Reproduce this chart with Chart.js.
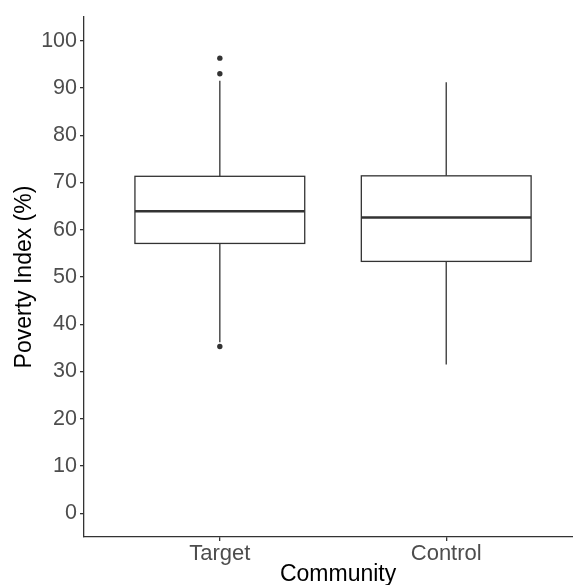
<!DOCTYPE html>
<html>
<head>
<meta charset="utf-8">
<script src="https://cdn.jsdelivr.net/npm/chart.js@4.4.1/dist/chart.umd.min.js"></script>
<style>
  html, body { margin: 0; padding: 0; background: #fff; overflow: hidden; }
  canvas { display: block; }
</style>
</head>
<body>
<canvas id="boxChart" width="573" height="585"></canvas>
<script>
// ---------------- DATA ----------------
const categories = ["Target", "Control"];
const whiskerLow = [36.2, 31.5];
const q1 = [57.1, 53.3];
const median = [63.9, 62.6];
const q3 = [71.3, 71.4];
const whiskerHigh = [91.5, 91.2];
const outliers = [[96.3, 93.0, 35.3], []];
const yTicks = [0, 10, 20, 30, 40, 50, 60, 70, 80, 90, 100];

// ---------------- STYLE ----------------
const FONT = "'Liberation Sans', Arial, sans-serif";
const LINE = "#333333";
const BOX_WIDTH = 0.75;

// outlier points as scatter data
const outlierPoints = [];
outliers.forEach((vals, i) => vals.forEach(v => outlierPoints.push({ x: i + 1, y: v })));

// ---------------- BOX PLUGIN ----------------
const boxPlugin = {
  id: "boxes",
  beforeDatasetsDraw(chart) {
    const { ctx, scales: { x, y } } = chart;
    ctx.save();
    ctx.strokeStyle = LINE;
    categories.forEach((c, i) => {
      const cx = x.getPixelForValue(i + 1);
      const left = x.getPixelForValue(i + 1 - BOX_WIDTH / 2);
      const right = x.getPixelForValue(i + 1 + BOX_WIDTH / 2);
      const yq1 = y.getPixelForValue(q1[i]);
      const yq3 = y.getPixelForValue(q3[i]);

      // whiskers
      ctx.lineWidth = 1.3;
      ctx.beginPath();
      ctx.moveTo(cx, yq3);
      ctx.lineTo(cx, y.getPixelForValue(whiskerHigh[i]));
      ctx.moveTo(cx, yq1);
      ctx.lineTo(cx, y.getPixelForValue(whiskerLow[i]));
      ctx.stroke();

      // box
      ctx.fillStyle = "#ffffff";
      ctx.fillRect(left, yq3, right - left, yq1 - yq3);
      ctx.strokeRect(left, yq3, right - left, yq1 - yq3);

      // median
      ctx.lineWidth = 2.4;
      ctx.beginPath();
      ctx.moveTo(left, y.getPixelForValue(median[i]));
      ctx.lineTo(right, y.getPixelForValue(median[i]));
      ctx.stroke();
    });
    ctx.restore();
  }
};

// ---------------- CHART ----------------
const ctx = document.getElementById("boxChart").getContext("2d");
const boxChart = new Chart(ctx, {
  type: "scatter",
  data: {
    datasets: [{
      label: "Outliers",
      data: outlierPoints,
      pointRadius: 2.7,
      pointBackgroundColor: LINE,
      pointBorderWidth: 0
    }]
  },
  options: {
    responsive: false,
    animation: false,
    layout: { autoPadding: false, padding: { top: 17, left: 0, right: 0, bottom: 0 } },
    plugins: {
      legend: { display: false },
      tooltip: { enabled: false }
    },
    scales: {
      x: {
        type: "linear",
        min: 0.4,
        max: 2.56,
        afterBuildTicks: scale => { scale.ticks = categories.map((c, i) => ({ value: i + 1 })); },
        afterFit: scale => {
          scale.height = 48;
          scale.paddingLeft = 0;
          scale.paddingRight = 0;
        },
        ticks: {
          callback: v => categories[v - 1],
          color: "#4D4D4D",
          font: { family: FONT, size: 22 },
          padding: 0,
          maxRotation: 0
        },
        grid: { drawOnChartArea: false, drawTicks: true, tickLength: 4, color: LINE, lineWidth: 1.3 },
        border: { display: true, color: LINE, width: 1.3 },
        title: {
          display: true,
          text: "\u00a0\u00a0\u00a0Community",
          color: "#000",
          font: { family: FONT, size: 23, lineHeight: 0.87 },
          padding: { top: 0, bottom: 0 }
        }
      },
      y: {
        min: -5,
        max: 105,
        afterBuildTicks: scale => { scale.ticks = yTicks.map(v => ({ value: v })); },
        afterFit: scale => { scale.width = 84; },
        ticks: {
          color: "#4D4D4D",
          font: { family: FONT, size: 21.5 },
          padding: 3
        },
        grid: { drawOnChartArea: false, drawTicks: true, tickLength: 4, color: LINE, lineWidth: 1.3 },
        border: { display: true, color: LINE, width: 1.3 },
        title: {
          display: true,
          text: "Poverty Index (%)",
          color: "#000",
          font: { family: FONT, size: 23, lineHeight: 1.2 },
          padding: { top: 11, bottom: 0 }
        }
      }
    }
  },
  plugins: [boxPlugin]
});
</script>
</body>
</html>
